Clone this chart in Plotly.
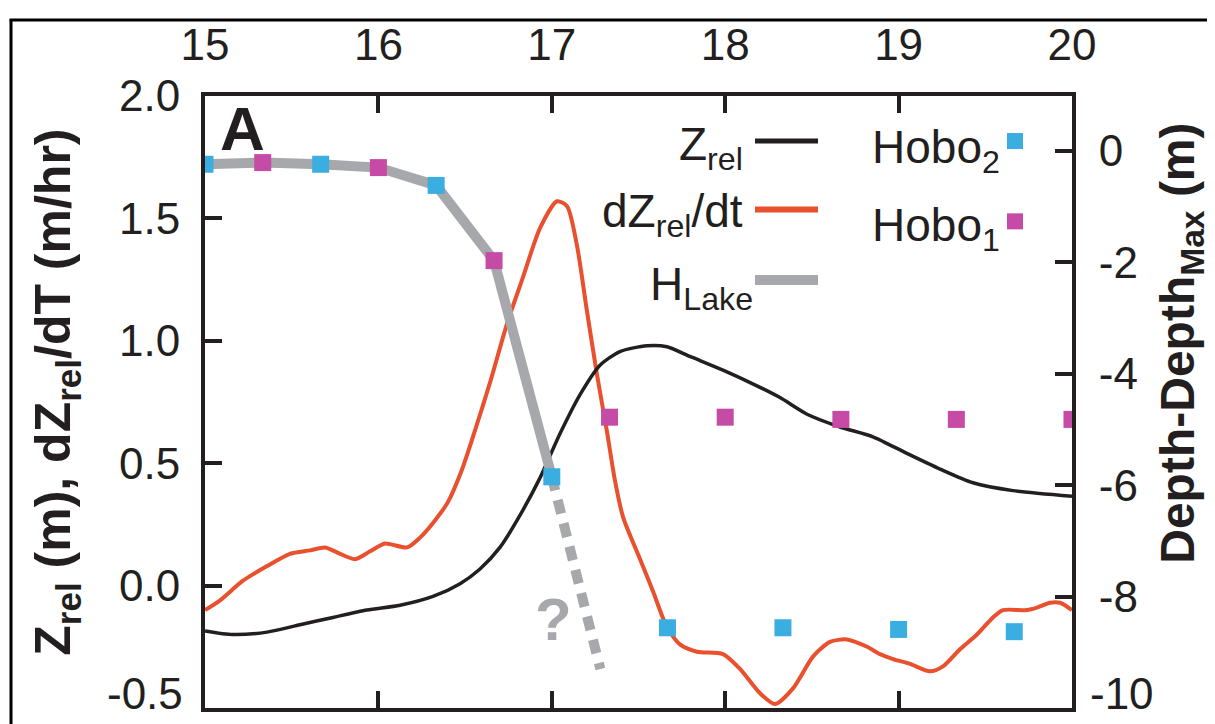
import plotly.graph_objects as go

# ---------------- data ----------------
zrel_t = [15.00, 15.161, 15.358, 15.548, 15.738, 15.934, 16.125, 16.315, 16.471, 16.586,
          16.701, 16.817, 16.932, 17.047, 17.163, 17.278, 17.393, 17.549, 17.664, 17.797,
          17.987, 18.183, 18.316, 18.472, 18.662, 18.852, 19.048, 19.239, 19.429, 19.660, 20.0]
zrel_v = [-0.185, -0.20, -0.19, -0.16, -0.13, -0.10, -0.08, -0.044, 0.008, 0.068,
          0.156, 0.288, 0.44, 0.62, 0.78, 0.90, 0.956, 0.98, 0.976, 0.936,
          0.88, 0.816, 0.768, 0.70, 0.648, 0.608, 0.54, 0.476, 0.42, 0.388, 0.365]

dzdt_t = [15.00, 15.087, 15.219, 15.358, 15.490, 15.606, 15.692, 15.761, 15.865, 15.952,
          16.038, 16.165, 16.240, 16.315, 16.400, 16.480, 16.560, 16.644, 16.742, 16.834,
          16.932, 17.030, 17.088, 17.145, 17.203, 17.261, 17.318, 17.364, 17.411, 17.509,
          17.584, 17.664, 17.739, 17.837, 17.987, 18.085, 18.201, 18.287, 18.391, 18.506,
          18.604, 18.702, 18.818, 18.893, 18.968, 19.066, 19.181, 19.256, 19.354, 19.452,
          19.544, 19.602, 19.740, 19.798, 19.873, 19.931, 20.0]
dzdt_v = [-0.10, -0.06, 0.02, 0.08, 0.13, 0.144, 0.156, 0.136, 0.108, 0.14,
          0.172, 0.156, 0.196, 0.256, 0.34, 0.47, 0.64, 0.83, 1.07, 1.26,
          1.46, 1.57, 1.55, 1.39, 1.12, 0.86, 0.63, 0.43, 0.28, 0.108,
          -0.024, -0.17, -0.24, -0.27, -0.28, -0.34, -0.44, -0.484, -0.42, -0.29,
          -0.23, -0.22, -0.25, -0.28, -0.30, -0.32, -0.35, -0.33, -0.26, -0.20,
          -0.13, -0.10, -0.10, -0.09, -0.07, -0.07, -0.10]

hobo2_t = [15.0, 15.667, 16.333, 17.0, 17.667, 18.333, 19.0, 19.667]
hobo2_d = [-0.24, -0.24, -0.62, -5.85, -8.56, -8.56, -8.59, -8.63]
hobo1_t = [15.333, 16.0, 16.667, 17.333, 18.0, 18.667, 19.333, 20.0]
hobo1_d = [-0.21, -0.30, -1.97, -4.78, -4.78, -4.82, -4.82, -4.82]

hlake_t = [15.0, 15.333, 15.667, 16.0, 16.333, 16.667, 17.0]
hlake_d = [-0.24, -0.21, -0.24, -0.30, -0.62, -1.97, -5.85]
hlake_ext_t = [17.0, 17.28]
hlake_ext_d = [-5.85, -9.30]

x_ticks = [15, 16, 17, 18, 19, 20]
left_ticks = [-0.5, 0.0, 0.5, 1.0, 1.5, 2.0]
left_ticktext = [" ", "0.0", "0.5", "1.0", "1.5", "2.0"]
right_ticks = [-10, -8, -6, -4, -2, 0]
right_ticktext = [" ", "-8", "-6", "-4", "-2", "0"]

# ---------------- style ----------------
DARK = "#231f20"
RED = "#e8502e"
GRAY = "#a6a8ab"
BLUE = "#3aaee0"
MAG = "#c54ba6"
FONT = "Liberation Sans, Arial, Helvetica, sans-serif"

fig = go.Figure()

fig.add_trace(go.Scatter(x=hlake_t, y=hlake_d, yaxis="y2", mode="lines",
                         line=dict(color=GRAY, width=10), showlegend=False))
fig.add_trace(go.Scatter(x=hlake_ext_t, y=hlake_ext_d, yaxis="y2", mode="lines",
                         line=dict(color=GRAY, width=10, dash="14px,10px"), showlegend=False))
fig.add_trace(go.Scatter(x=dzdt_t, y=dzdt_v, mode="lines",
                         line=dict(color=RED, width=4, shape="spline", smoothing=0.7),
                         showlegend=False))
fig.add_trace(go.Scatter(x=zrel_t, y=zrel_v, mode="lines",
                         line=dict(color=DARK, width=3.5, shape="spline", smoothing=0.7),
                         showlegend=False))
fig.add_trace(go.Scatter(x=hobo2_t, y=hobo2_d, yaxis="y2", mode="markers",
                         marker=dict(symbol="square", size=17, color=BLUE), showlegend=False))
fig.add_trace(go.Scatter(x=hobo1_t, y=hobo1_d, yaxis="y2", mode="markers",
                         marker=dict(symbol="square", size=17, color=MAG), showlegend=False))

# page body has an 8px margin: the figure is placed at (8, 8) on screen
OFF = 8
W, H = 1215 - OFF, 724 - OFF
L_s, R_s, T_s, B_s = 205, 1072, 87, 712          # plot area in screen pixels
L, T = L_s - OFF, T_s - OFF
R = W - (R_s - OFF)
B = H - (B_s - OFF)
PW = R_s - L_s
PH = B_s - T_s


def px(x):
    return (x - L_s) / PW


def py(y):
    return (B_s - y) / PH


axis_common = dict(showgrid=False, zeroline=False, showline=True, linewidth=4,
                   linecolor=DARK, ticks="inside", ticklen=17, tickwidth=4,
                   tickcolor=DARK, tickfont=dict(size=44, color=DARK, family=FONT))

fig.update_layout(
    width=W, height=H,
    margin=dict(l=L, r=R, t=T, b=B),
    paper_bgcolor="white", plot_bgcolor="white",
    font=dict(family=FONT, color=DARK),
    xaxis=dict(range=[15, 20], side="top", tickvals=x_ticks, mirror="ticks",
               ticklabelstandoff=14, **axis_common),
    yaxis=dict(range=[-0.5, 2.0], tickvals=left_ticks, ticktext=left_ticktext,
               ticklabelstandoff=12, automargin=False, **axis_common),
    yaxis2=dict(range=[-10, 0.985], overlaying="y", side="right", anchor="x",
                tickvals=right_ticks, ticktext=right_ticktext, automargin=False,
                ticklabelstandoff=14, **axis_common),
    showlegend=False,
)

ann = []
# bottom tick labels shifted up (as in the reference)
ann.append(dict(text="-0.5", x=px(185), y=py(697), xref="paper", yref="paper",
                xanchor="right", yanchor="middle", showarrow=False,
                font=dict(size=44, color=DARK)))
ann.append(dict(text="-10", x=px(1088), y=py(697), xref="paper", yref="paper",
                xanchor="left", yanchor="middle", showarrow=False,
                font=dict(size=44, color=DARK)))
# axis titles
ann.append(dict(text="<b>Z<sub>rel</sub> (m), dZ<sub>rel</sub>/dT (m/hr)</b>",
                x=px(57), y=py(390), xref="paper", yref="paper", textangle=-90,
                xanchor="center", yanchor="middle", showarrow=False,
                font=dict(size=50, color=DARK)))
ann.append(dict(text="<b>Depth-Depth<sub>Max</sub> (m)</b>",
                x=px(1181), y=py(340), xref="paper", yref="paper", textangle=-90,
                xanchor="center", yanchor="middle", showarrow=False,
                font=dict(size=48, color=DARK)))
# panel letter
ann.append(dict(text="<b>A</b>", x=px(242), y=py(120), xref="paper", yref="paper",
                xanchor="center", yanchor="middle", showarrow=False,
                font=dict(size=62, color=DARK)))
# question mark
ann.append(dict(text="<b>?</b>", x=px(553), y=py(622), xref="paper", yref="paper",
                xanchor="center", yanchor="middle", showarrow=False,
                font=dict(size=60, color=GRAY)))
# legend texts
leg_font = dict(size=46, color=DARK)
ann.append(dict(text="Z<sub>rel</sub>", x=px(745), y=py(140), xref="paper", yref="paper",
                xanchor="right", yanchor="middle", showarrow=False, font=leg_font))
ann.append(dict(text="dZ<sub>rel</sub>/dt", x=px(745), y=py(208), xref="paper", yref="paper",
                xanchor="right", yanchor="middle", showarrow=False, font=leg_font))
ann.append(dict(text="H<sub>Lake</sub>", x=px(755), y=py(283), xref="paper", yref="paper",
                xanchor="right", yanchor="middle", showarrow=False, font=leg_font))
ann.append(dict(text="Hobo<sub>2</sub>", x=px(870), y=py(143), xref="paper", yref="paper",
                xanchor="left", yanchor="middle", showarrow=False, font=leg_font))
ann.append(dict(text="Hobo<sub>1</sub>", x=px(870), y=py(222), xref="paper", yref="paper",
                xanchor="left", yanchor="middle", showarrow=False, font=leg_font))
fig.update_layout(annotations=ann)

shapes = []
# legend line samples
for yy, col, w in [(133, DARK, 5), (203, RED, 6), (275, GRAY, 10)]:
    shapes.append(dict(type="line", xref="paper", yref="paper", x0=px(755), x1=px(818),
                       y0=py(yy), y1=py(yy), line=dict(color=col, width=w)))
# legend marker samples
for yy, col in [(133, BLUE), (215, MAG)]:
    shapes.append(dict(type="rect", xref="paper", yref="paper",
                       xsizemode="pixel", ysizemode="pixel",
                       xanchor=px(1015), yanchor=py(yy), x0=-8, x1=8, y0=-8, y1=8,
                       fillcolor=col, line=dict(width=0)))
# outer frame (left and top edges)
shapes.append(dict(type="line", xref="paper", yref="paper", x0=px(11), x1=px(11),
                   y0=py(9.5), y1=py(730), line=dict(color="black", width=3)))
shapes.append(dict(type="line", xref="paper", yref="paper", x0=px(9.5), x1=px(1220),
                   y0=py(9.5), y1=py(9.5), line=dict(color="black", width=3)))
fig.update_layout(shapes=shapes)

fig.write_html("out.html")
